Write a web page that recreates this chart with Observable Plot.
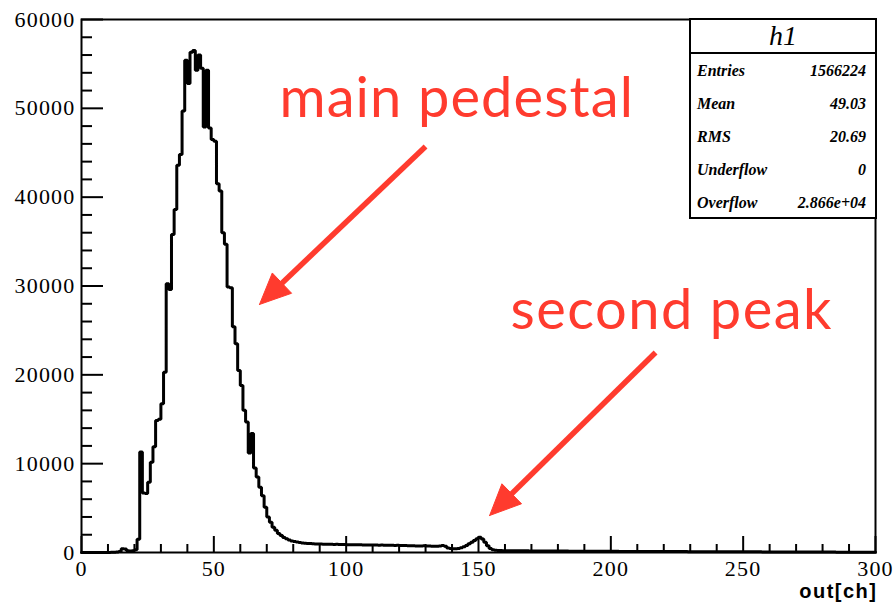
<!DOCTYPE html>
<html><head><meta charset="utf-8">
<script src="https://cdn.jsdelivr.net/npm/d3@7"></script>
<script src="https://cdn.jsdelivr.net/npm/@observablehq/plot@0.6"></script>
<style>
body{margin:0;background:#fff;}
#wrap{position:relative;width:893px;height:606px;overflow:hidden;background:#fff;}
#wrap svg{position:absolute;left:0;top:0;}
#stats{position:absolute;left:689px;top:18px;width:188px;height:201px;box-sizing:border-box;border:2.5px solid #000;background:#fff;font-family:"Liberation Serif","DejaVu Serif",serif;color:#000;}
#stats .hd{height:32px;border-bottom:2.5px solid #000;text-align:center;font-style:italic;font-size:28px;line-height:32px;}
#stats .row{display:flex;justify-content:space-between;align-items:center;padding:0 9px 0 6px;height:33px;font-style:italic;font-weight:bold;font-size:16px;}
</style></head><body><div id="wrap"></div>
<script>
// ---- data ----
const binLow = 0;
const binWidth = 1;
const counts = [
  0,0,0,0,0,0,0,0,0,0,
  0,20,40,60,100,420,380,200,180,200,
  300,1500,11300,6700,6650,7900,10150,11900,14850,15000,
  16750,20300,30250,29600,35800,38600,43600,44800,49700,55400,
  52800,56300,56500,54300,56000,54500,47900,54300,47800,46500,
  46300,41500,40700,36000,34700,29900,29800,25400,23500,20500,
  18800,16000,14700,11200,13400,9500,8500,7350,6400,5100,
  4000,3400,2850,2500,2150,1900,1700,1550,1400,1300,
  1230,1170,1120,1080,1050,1020,1000,990,970,960,
  950,940,930,935,920,910,915,900,905,890,
  880,885,870,875,860,870,850,855,845,850,
  840,845,830,835,820,830,810,815,800,805,
  790,780,785,770,760,750,740,745,730,760,
  740,720,700,710,690,720,780,700,520,450,
  430,420,460,540,650,800,980,1150,1350,1550,
  1720,1520,1150,750,450,320,260,230,220,210,
  205,200,198,196,192,190,189,185,183,181,
  178,176,175,172,170,169,166,165,163,161,
  160,158,157,155,153,152,150,149,147,145,
  144,142,141,140,138,137,135,134,133,131,
  130,129,127,126,125,124,122,121,120,119,
  118,117,115,114,113,112,111,110,109,108,
  107,106,105,104,103,102,101,100,99,98,
  97,96,95,94,93,92,91,90,89,88,
  87,86,85,84,83,82,81,80,79,78,
  77,76,75,74,73,72,71,70,69,68,
  67,66,65,64,63,62,61,60,59,58,
  57,56,55,54,53,52,51,50,49,48,
  47,46,45,44,43,42,41,40,39,38,
  37,36,35,34,33,32,31,30,29,28
];
const xDomain = [0, 300];
const yDomain = [0, 60000];
const xMajorTicks = [0, 50, 100, 150, 200, 250, 300];
const xMinorTicks = [10,20,30,40,60,70,80,90,110,120,130,140,160,170,180,190,210,220,230,240,260,270,280,290];
const yMajorTicks = [0, 10000, 20000, 30000, 40000, 50000, 60000];
const yMinorTicks = [2000,4000,6000,8000,12000,14000,16000,18000,22000,24000,26000,28000,32000,34000,36000,38000,42000,44000,46000,48000,52000,54000,56000,58000];
const xTitle = "out[ch]";
const histName = "h1";
const statNames = ["Entries", "Mean", "RMS", "Underflow", "Overflow"];
const statValues = ["1566224", "49.03", "20.69", "0", "2.866e+04"];
const noteLabels = ["main pedestal", "second peak"];
const noteX = [74.8, 162.1];
const noteY = [51000, 27130];
const arrowFromX = [130.0, 216.9];
const arrowFromY = [45700, 22510];
const arrowToX = [67.25, 154.2];
const arrowToY = [27920, 4165];

// ---- layout ----
const W = 893, H = 606;
const mL = 81, mR = 18, mT = 19, mB = 54;
const innerW = W - mL - mR, innerH = H - mT - mB;
const red = "#ff3b2e";
const serifStack = '"Liberation Serif", "DejaVu Serif", serif';

const hist = counts.map((c, i) => ({x: binLow + i * binWidth, y: c}));
hist.push({x: binLow + counts.length * binWidth, y: counts[counts.length - 1]});

const base = {width: W, height: H, marginLeft: mL, marginRight: mR, marginTop: mT, marginBottom: mB,
  x: {domain: xDomain}, y: {domain: yDomain}, style: {background: "white", color: "black"}};

// first pass: read the scales
const pre = Plot.plot({...base, marks: [Plot.frame()]});
const sx = d3.scaleLinear(pre.scale("x").domain, pre.scale("x").range);
const sy = d3.scaleLinear(pre.scale("y").domain, pre.scale("y").range);

const headL = 31, headW = 28;
const shafts = [], heads = [];
noteLabels.forEach((_, i) => {
  const S = [sx(arrowFromX[i]), sy(arrowFromY[i])];
  const T = [sx(arrowToX[i]), sy(arrowToY[i])];
  const dx = T[0] - S[0], dy = T[1] - S[1], len = Math.hypot(dx, dy);
  const u = [dx / len, dy / len], n = [-u[1], u[0]];
  const E = [T[0] - u[0] * headL * 0.6, T[1] - u[1] * headL * 0.6];
  shafts.push({x1: arrowFromX[i], y1: arrowFromY[i], x2: sx.invert(E[0]), y2: sy.invert(E[1])});
  const B = [T[0] - u[0] * headL, T[1] - u[1] * headL];
  const pts = [T, [B[0] + n[0] * headW / 2, B[1] + n[1] * headW / 2], [B[0] - n[0] * headW / 2, B[1] - n[1] * headW / 2], T];
  pts.forEach(p => heads.push({id: i, x: sx.invert(p[0]), y: sy.invert(p[1])}));
});

const notes = noteLabels.map((t, i) => ({label: t, x: noteX[i], y: noteY[i], ls: i === 0 ? 1.1 : 1.5}));

const chart = Plot.plot({
  ...base,
  marks: [
    Plot.ruleX(xMinorTicks, {x: d => d, insetTop: innerH - 8, stroke: "black", strokeWidth: 2}),
    Plot.ruleX(xMajorTicks, {x: d => d, insetTop: innerH - 16, stroke: "black", strokeWidth: 2}),
    Plot.ruleY(yMinorTicks, {y: d => d, insetRight: innerW - 11, stroke: "black", strokeWidth: 2}),
    Plot.ruleY(yMajorTicks, {y: d => d, insetRight: innerW - 22, stroke: "black", strokeWidth: 2}),
    Plot.line(hist, {x: "x", y: "y", curve: "step-after", stroke: "black", strokeWidth: 3, strokeLinejoin: "miter"}),
    Plot.frame({stroke: "black", strokeWidth: 2}),
    Plot.axisX(xMajorTicks, {tickSize: 0, tickPadding: 8, fontSize: 22, label: null, tickFormat: d => String(d)}),
    Plot.axisY(yMajorTicks, {tickSize: 0, tickPadding: 6, fontSize: 22, label: null, tickFormat: d => String(d)}),
    Plot.text([xTitle], {frameAnchor: "bottom-right", text: d => d, textAnchor: "end", dy: 45, dx: 2, fontSize: 20, fontWeight: "bold", fill: "black"}),
    Plot.link(shafts, {x1: "x1", y1: "y1", x2: "x2", y2: "y2", stroke: red, strokeWidth: 5.5}),
    Plot.line(heads, {x: "x", y: "y", z: "id", fill: red, stroke: red, strokeWidth: 1}),
    Plot.text(notes, {x: "x", y: "y", text: "label", textAnchor: "start", fontSize: 56, fill: red})
  ]
});

const wrap = document.getElementById("wrap");
wrap.appendChild(chart);

// typography applied inline on the rendered texts
chart.querySelectorAll("text").forEach(t => {
  const s = t.textContent.trim();
  if (/^\d+$/.test(s)) {
    t.style.fontFamily = serifStack;
    t.style.fontSize = "22px";
    t.style.letterSpacing = "1.2px";
  }
  const k = noteLabels.indexOf(s);
  if (k >= 0) {
    t.style.fontFamily = '"Lato", sans-serif';
    t.style.letterSpacing = notes[k].ls + "px";
  }
  if (s === xTitle) {
    t.style.fontFamily = '"Liberation Sans", Arial, sans-serif';
    t.style.fontWeight = "bold";
    t.style.letterSpacing = "1.5px";
  }
});

const box = document.createElement("div");
box.id = "stats";
const hd = document.createElement("div");
hd.className = "hd";
hd.textContent = histName;
box.appendChild(hd);
statNames.forEach((nm, i) => {
  const r = document.createElement("div");
  r.className = "row";
  const a = document.createElement("span"); a.textContent = nm;
  const b = document.createElement("span"); b.textContent = statValues[i];
  r.appendChild(a); r.appendChild(b);
  box.appendChild(r);
});
wrap.appendChild(box);
</script>
</body></html>
